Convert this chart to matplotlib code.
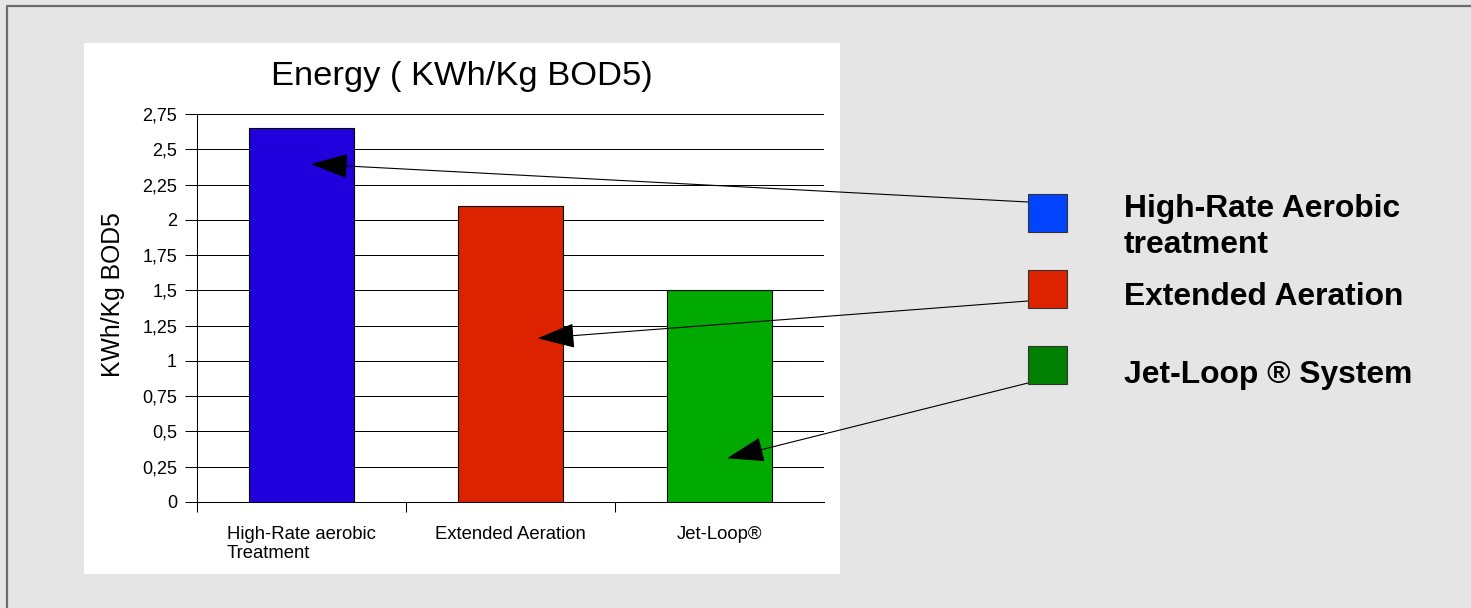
import matplotlib
matplotlib.use("Agg")
import matplotlib.pyplot as plt
from matplotlib.patches import Rectangle
from matplotlib.lines import Line2D
import numpy as np

plt.rcParams['font.family'] = ['Liberation Sans', 'DejaVu Sans']

# ---- data ----
categories = ["High-Rate aerobic\nTreatment", "Extended Aeration", "Jet-Loop®"]
values = [2.65, 2.10, 1.50]
bar_colors = ["#2200dd", "#dd2200", "#00aa00"]
ytick_values = [0, 0.25, 0.5, 0.75, 1, 1.25, 1.5, 1.75, 2, 2.25, 2.5, 2.75]
ytick_labels = ["0", "0,25", "0,5", "0,75", "1", "1,25", "1,5", "1,75", "2", "2,25", "2,5", "2,75"]
title = "Energy ( KWh/Kg BOD5)"
ylabel = "KWh/Kg BOD5"
legend_labels = ["High-Rate Aerobic\ntreatment", "Extended Aeration", "Jet-Loop ® System"]
legend_colors = ["#0044ff", "#dd2200", "#007f00"]
# arrow tips (data coords inside each bar)
arrow_tips = [(0.045, 2.395), (1.13, 1.16), (2.036, 0.31)]

W, H = 1471, 608
def fx(x): return x / W
def fy(y): return 1 - y / H

fig = plt.figure(figsize=(W / 100, H / 100), dpi=100, facecolor="#e5e5e5")

# outer border (top and left)
fig.add_artist(Line2D([fx(7), fx(7), 1.0], [0.0, fy(5.5), fy(5.5)], color="#6b6b6b", lw=1.6,
                      transform=fig.transFigure, zorder=-2))
# white chart panel
fig.add_artist(Rectangle((fx(84), fy(574)), fx(840) - fx(84), (574 - 43) / H,
                         facecolor="white", edgecolor="none", transform=fig.transFigure, zorder=-1))

ax = fig.add_axes([fx(197), fy(502), 627 / W, 388 / H])
ax.set_facecolor("white")
x = np.arange(len(categories))
ax.bar(x, values, width=0.5, color=bar_colors, edgecolor="black", linewidth=0.8, zorder=3)
ax.set_xlim(-0.5, 2.5)
ax.set_ylim(0, 2.75)

ax.set_yticks(ytick_values)
ax.set_yticklabels(ytick_labels, fontsize=13)
ax.tick_params(axis="y", direction="out", length=8.6, width=0.75, pad=5.8, color="black")
ax.yaxis.grid(True, color="black", lw=0.72)
ax.set_axisbelow(True)

ax.set_xticks([-0.5, 0.5, 1.5])
ax.set_xticklabels([])
ax.set_xticks(x, minor=True)
ax.set_xticklabels(categories, minor=True, fontsize=13.3, multialignment="left", linespacing=1.22)
ax.tick_params(axis="x", which="major", direction="out", length=7.5, width=0.75, color="black")
ax.tick_params(axis="x", which="minor", length=0, pad=17)

for s in ["top", "right"]:
    ax.spines[s].set_visible(False)
for s in ["left", "bottom"]:
    ax.spines[s].set_color("black")
    ax.spines[s].set_linewidth(0.75)

fig.text(fx(461.5), fy(85), title, ha="center", va="baseline", fontsize=24.8)
fig.text(fx(113), fy(295), ylabel, rotation=90, ha="center", va="center", fontsize=17.8)

# legend boxes + labels + arrows
sq_tops = [194, 270, 346]
text_baselines = [217, 305, 383]
tail_ys = [202, 301, 383]
for i in range(3):
    fig.add_artist(Rectangle((fx(1028), fy(sq_tops[i] + 38)), 39 / W, 38 / H,
                             facecolor=legend_colors[i], edgecolor="#333333", lw=0.8,
                             transform=fig.transFigure, zorder=2))
    for j, line in enumerate(legend_labels[i].split("\n")):
        fig.text(fx(1124), fy(text_baselines[i] + 36 * j), line, ha="left", va="baseline",
                 fontsize=22.9, fontweight="bold")
    ax.annotate("", xy=arrow_tips[i], xycoords="data",
                xytext=(fx(1028), fy(tail_ys[i])), textcoords="figure fraction",
                arrowprops=dict(arrowstyle="-|>,head_length=2.4,head_width=0.8", mutation_scale=10,
                                color="black", lw=0.8, shrinkA=0, shrinkB=0),
                annotation_clip=False, zorder=5)

fig.savefig("out.png", dpi=100, facecolor=fig.get_facecolor())
